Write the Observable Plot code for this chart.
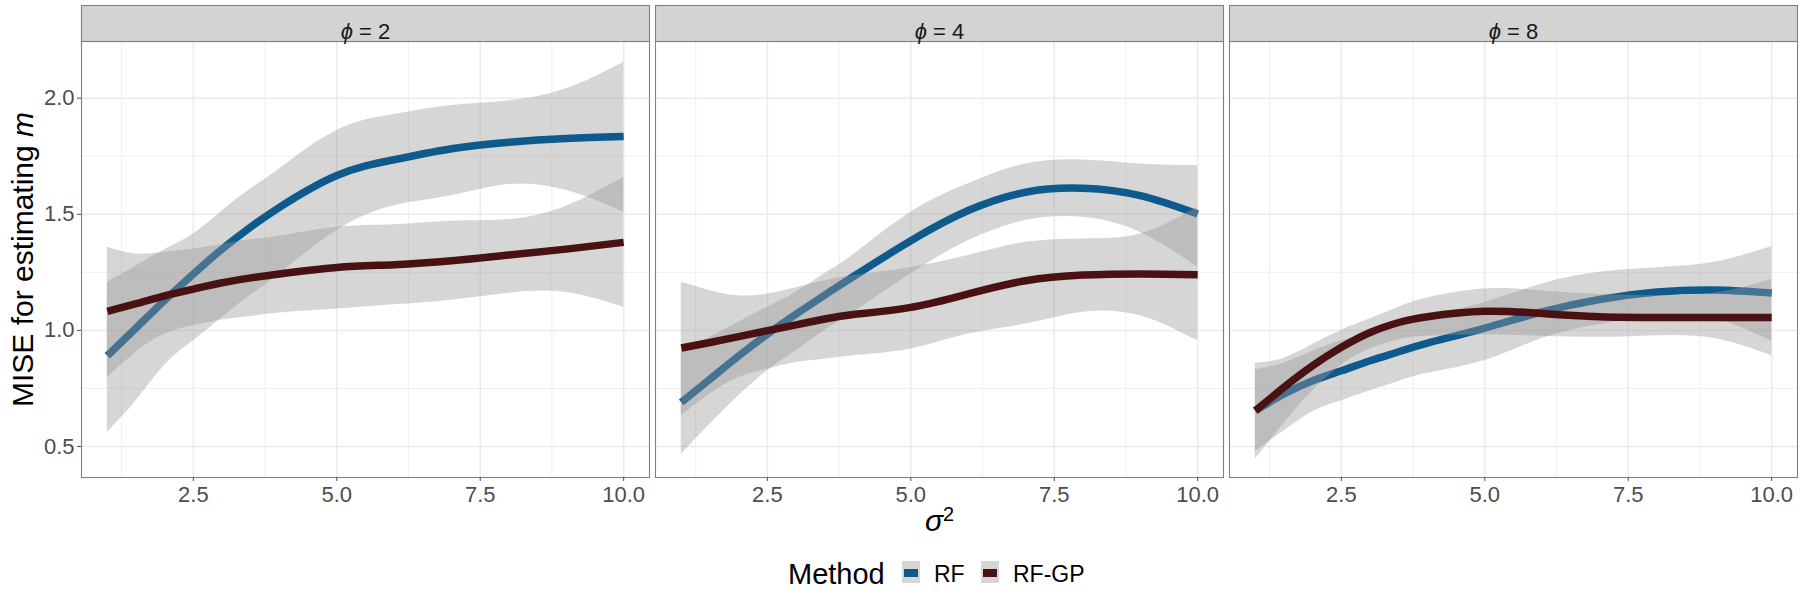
<!DOCTYPE html>
<html><head><meta charset="utf-8">
<script src="https://cdn.jsdelivr.net/npm/d3@7"></script>
<script src="https://cdn.jsdelivr.net/npm/@observablehq/plot@0.6"></script>
<style>
body{margin:0;background:#fff;font-family:"Liberation Sans",Arial,sans-serif;}
#wrap{position:relative;width:1800px;height:600px;overflow:hidden;}
#legend{position:absolute;top:548px;left:0;width:1800px;height:52px;}
#legend .t{position:absolute;top:2px;height:48px;line-height:48px;white-space:nowrap;color:#000;}
#legend .k{position:absolute;top:13px;width:18px;height:22px;background:#D6D6D6;}
#legend .k i{position:absolute;left:2px;right:2px;top:8px;height:8px;display:block;}
</style></head><body>
<div id="wrap"><div id="chart"></div><div id="legend"></div></div>
<script>
// ---- data ----
const sigma = [1, 1.5, 2, 2.5, 3, 3.5, 4, 5, 6, 7, 8, 9, 10];
const phiLevels = ["2", "4", "8"];
const methods = ["RF", "RF-GP"];
const methodColors = ["#0F5A8C", "#4A1113"];

// phi = 2
const rf_phi2_fit = [0.891, 1.01, 1.13, 1.243, 1.35, 1.445, 1.53, 1.667, 1.735, 1.782, 1.81, 1.826, 1.835];
const rf_phi2_hi  = [1.207, 1.277, 1.348, 1.415, 1.514, 1.609, 1.695, 1.861, 1.93, 1.968, 1.988, 2.04, 2.155];
const rf_phi2_lo  = [0.56, 0.697, 0.85, 0.955, 1.055, 1.152, 1.243, 1.43, 1.537, 1.58, 1.628, 1.603, 1.509];
const gp_phi2_fit = [1.082, 1.115, 1.149, 1.178, 1.205, 1.226, 1.243, 1.271, 1.283, 1.30, 1.325, 1.35, 1.379];
const gp_phi2_hi  = [1.358, 1.329, 1.336, 1.35, 1.37, 1.39, 1.405, 1.444, 1.455, 1.47, 1.477, 1.535, 1.659];
const gp_phi2_lo  = [0.797, 0.905, 0.984, 1.02, 1.045, 1.06, 1.075, 1.092, 1.11, 1.13, 1.16, 1.163, 1.099];
// phi = 4
const rf_phi4_fit = [0.69, 0.79, 0.89, 0.984, 1.07, 1.152, 1.232, 1.386, 1.516, 1.595, 1.612, 1.58, 1.501];
const rf_phi4_hi  = [0.91, 0.97, 1.035, 1.1, 1.164, 1.245, 1.326, 1.509, 1.631, 1.717, 1.734, 1.717, 1.71];
const rf_phi4_lo  = [0.467, 0.596, 0.718, 0.826, 0.912, 0.999, 1.078, 1.243, 1.386, 1.473, 1.487, 1.422, 1.272];
const gp_phi4_fit = [0.924, 0.948, 0.973, 0.999, 1.024, 1.049, 1.068, 1.099, 1.157, 1.214, 1.238, 1.243, 1.24];
const gp_phi4_hi  = [1.207, 1.171, 1.149, 1.157, 1.184, 1.214, 1.236, 1.271, 1.322, 1.379, 1.394, 1.415, 1.53];
const gp_phi4_lo  = [0.632, 0.726, 0.797, 0.833, 0.862, 0.876, 0.891, 0.92, 0.984, 1.027, 1.078, 1.063, 0.955];
// phi = 8
const rf_phi8_fit = [0.654, 0.726, 0.783, 0.826, 0.869, 0.908, 0.945, 1.01, 1.08, 1.133, 1.165, 1.174, 1.161];
const rf_phi8_hi  = [0.83, 0.86, 0.91, 0.955, 0.99, 1.03, 1.06, 1.12, 1.2, 1.25, 1.27, 1.293, 1.361];
const rf_phi8_lo  = [0.48, 0.567, 0.65, 0.697, 0.74, 0.78, 0.815, 0.87, 0.965, 1.025, 1.055, 1.05, 0.953];
const gp_phi8_fit = [0.654, 0.755, 0.848, 0.927, 0.991, 1.034, 1.059, 1.082, 1.073, 1.059, 1.056, 1.056, 1.056];
const gp_phi8_hi  = [0.858, 0.88, 0.94, 1.0, 1.05, 1.1, 1.14, 1.178, 1.17, 1.155, 1.15, 1.16, 1.219];
const gp_phi8_lo  = [0.445, 0.6, 0.74, 0.85, 0.92, 0.96, 0.975, 0.98, 0.975, 0.97, 0.977, 0.965, 0.891];

const xMajor = [2.5, 5, 7.5, 10];
const xMinor = [1.25, 3.75, 6.25, 8.75];
const yMajor = [0.5, 1.0, 1.5, 2.0];
const yMinor = [0.75, 1.25, 1.75];

// ---- build tables ----
function rows(phi, method, fit, lo, hi) {
  return sigma.map((s, i) => ({phi, method, sigma: s, fit: fit[i], lo: lo[i], hi: hi[i]}));
}
const rfData = [
  ...rows("2", "RF", rf_phi2_fit, rf_phi2_lo, rf_phi2_hi),
  ...rows("4", "RF", rf_phi4_fit, rf_phi4_lo, rf_phi4_hi),
  ...rows("8", "RF", rf_phi8_fit, rf_phi8_lo, rf_phi8_hi)
];
const gpData = [
  ...rows("2", "RF-GP", gp_phi2_fit, gp_phi2_lo, gp_phi2_hi),
  ...rows("4", "RF-GP", gp_phi4_fit, gp_phi4_lo, gp_phi4_hi),
  ...rows("8", "RF-GP", gp_phi8_fit, gp_phi8_lo, gp_phi8_hi)
];

const ribbon = {fx: "phi", x: "sigma", y1: "lo", y2: "hi", fill: "#999999", fillOpacity: 0.4, curve: "natural"};
const lineOpt = (c) => ({fx: "phi", x: "sigma", y: "fit", stroke: c, strokeWidth: 7.5, strokeLinecap: "butt", curve: "natural"});

const chart = Plot.plot({
  width: 1800, height: 548,
  marginLeft: 81, marginRight: 3, marginTop: 41, marginBottom: 71,
  style: {fontFamily: "'Liberation Sans', Arial, sans-serif", background: "white", overflow: "visible"},
  fx: {domain: phiLevels, paddingInner: 6 / 574, paddingOuter: 0, axis: null},
  x: {domain: [0.55, 10.45]},
  y: {domain: [0.3665, 2.244]},
  marks: [
    Plot.ruleX(xMinor, {stroke: "#EBEBEB", strokeWidth: 0.8}),
    Plot.ruleY(yMinor, {stroke: "#EBEBEB", strokeWidth: 0.8}),
    Plot.ruleX(xMajor, {stroke: "#EBEBEB", strokeWidth: 1.5}),
    Plot.ruleY(yMajor, {stroke: "#EBEBEB", strokeWidth: 1.5}),
    Plot.areaY(rfData, ribbon),
    Plot.line(rfData, lineOpt(methodColors[0])),
    Plot.areaY(gpData, ribbon),
    Plot.line(gpData, lineOpt(methodColors[1])),
    Plot.frame({stroke: "#808080", strokeWidth: 1.1}),
    Plot.frame({fill: "#D3D3D3", stroke: "#808080", strokeWidth: 1.1, insetTop: -36, insetBottom: 436}),
    Plot.text(phiLevels, {fx: d => d, text: d => `ϕ = ${d}`, frameAnchor: "top", dy: -18, fontSize: 22, fill: "#1A1A1A"}),
    Plot.axisX({ticks: xMajor, tickFormat: d3.format(".1f"), tickSize: 4, tickPadding: 5, fontSize: 22, color: "#4D4D4D", label: null}),
    Plot.axisY({ticks: yMajor, tickFormat: d3.format(".1f"), tickSize: 4, tickPadding: 3, fontSize: 22, color: "#4D4D4D", label: null}),
    Plot.text(["MISE for estimating m"], {fx: () => "2", text: d => d, frameAnchor: "left", textAnchor: "middle", dx: -58.6, rotate: -90, fontSize: 30, fill: "#000"}),
    Plot.text(["σ2"], {fx: () => "4", text: d => d, frameAnchor: "bottom", dy: 53, fontSize: 30, fill: "#000"})
  ]
});
document.getElementById("chart").appendChild(chart);

// italic parts of labels
d3.select(chart).selectAll("text").each(function () {
  const t = this.textContent;
  const s = d3.select(this);
  if (t.startsWith("ϕ = ")) {
    s.text(null);
    s.append("tspan").attr("font-style", "italic").text("ϕ");
    s.append("tspan").text(t.slice(1));
  } else if (t === "MISE for estimating m") {
    s.text(null);
    s.append("tspan").text("MISE for estimating ");
    s.append("tspan").attr("font-style", "italic").text("m");
  } else if (t === "σ2") {
    s.text(null);
    s.append("tspan").attr("font-style", "italic").text("σ");
    s.append("tspan").attr("font-size", 20).attr("dy", "-0.5em").text("2");
  }
});

// legend
const lg = document.getElementById("legend");
function addText(txt, left, size) {
  const e = document.createElement("span");
  e.className = "t"; e.textContent = txt;
  e.style.left = left + "px"; e.style.fontSize = size + "px";
  lg.appendChild(e);
}
function addKey(left, color) {
  const k = document.createElement("span");
  k.className = "k"; k.style.left = left + "px";
  const b = document.createElement("i"); b.style.background = color;
  k.appendChild(b); lg.appendChild(k);
}
addText("Method", 788, 29);
addKey(902, methodColors[0]);
addText(methods[0], 934, 23);
addKey(981, methodColors[1]);
addText(methods[1], 1013, 23);
</script>
</body></html>
